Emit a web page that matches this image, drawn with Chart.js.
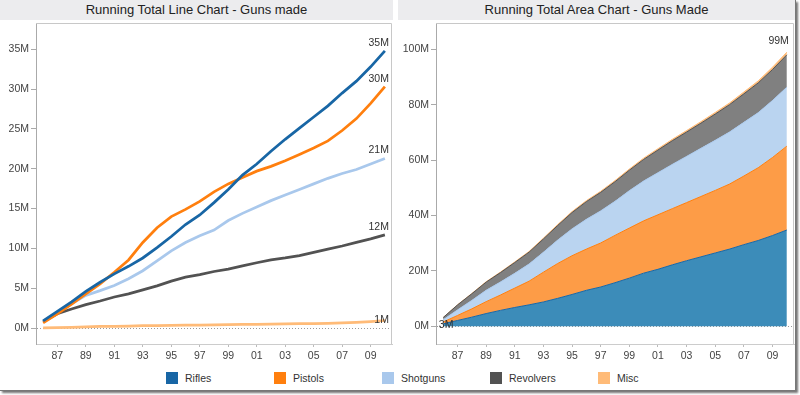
<!DOCTYPE html>
<html>
<head>
<meta charset="utf-8">
<script src="https://cdn.jsdelivr.net/npm/chart.js@4.4.1/dist/chart.umd.min.js"></script>
<style>
  html, body { margin: 0; padding: 0; background: #fff; }
  body { width: 800px; height: 395px; position: relative; overflow: hidden;
         font-family: "Liberation Sans", Arial, sans-serif; }
  .frame { position: absolute; left: 0; top: 0; width: 795px; height: 390px;
           border-right: 1px solid #777; border-bottom: 1px solid #777;
           box-shadow: 2px 2px 2px rgba(0,0,0,0.55); }
  .title { position: absolute; top: 0; height: 20px; line-height: 20px; background: #ececee;
           text-align: center; font-size: 13px; color: #222; }
  canvas { position: absolute; }
  .legend { position: absolute; top: 372px; left: 0; width: 800px; height: 14px;
            font-size: 10.5px; color: #333; }
  .legend span.item { position: absolute; top: 0; height: 13px; line-height: 13px; white-space: nowrap; }
  .legend i { display: inline-block; width: 12px; height: 12px; vertical-align: top; margin-right: 7px; }
</style>
</head>
<body>
<div class="frame"></div>
<div class="title" style="left:0;width:393px">Running Total Line Chart - Guns made</div>
<div class="title" style="left:398px;width:397px">Running Total Area Chart - Guns Made</div>
<canvas id="lineChart" width="393" height="348" style="left:0;top:20px"></canvas>
<canvas id="areaChart" width="397" height="348" style="left:398px;top:20px"></canvas>
<div class="legend" id="legend"></div>

<script>
// cumulative guns made, millions, 1986..2010
const years = ["86","87","88","89","90","91","92","93","94","95","96","97","98","99","00","01","02","03","04","05","06","07","08","09","10"];
const rifles = [0.9, 2.1, 3.3, 4.6, 5.75, 6.8, 7.75, 8.8, 10.1, 11.5, 13.0, 14.2, 15.75, 17.4, 19.2, 20.6, 22.2, 23.7, 25.1, 26.5, 27.9, 29.5, 31.0, 32.8, 34.8];
const pistols = [0.65, 1.8, 3.0, 4.3, 5.55, 7.0, 8.55, 10.75, 12.6, 14.0, 14.9, 15.9, 17.1, 18.1, 18.9, 19.7, 20.3, 21.0, 21.8, 22.6, 23.5, 24.8, 26.3, 28.2, 30.3];
const shotguns = [0.8, 2.0, 3.05, 4.1, 4.7, 5.35, 6.2, 7.2, 8.45, 9.7, 10.75, 11.6, 12.3, 13.5, 14.4, 15.2, 16.0, 16.7, 17.4, 18.1, 18.8, 19.4, 19.9, 20.6, 21.3];
const revolvers = [0.8, 1.8, 2.4, 2.95, 3.4, 3.9, 4.3, 4.8, 5.3, 5.9, 6.4, 6.7, 7.1, 7.4, 7.8, 8.2, 8.55, 8.8, 9.1, 9.5, 9.9, 10.3, 10.75, 11.2, 11.7];
const misc = [0.02, 0.05, 0.1, 0.15, 0.2, 0.22, 0.25, 0.3, 0.32, 0.34, 0.36, 0.38, 0.4, 0.42, 0.45, 0.47, 0.5, 0.52, 0.55, 0.57, 0.6, 0.65, 0.72, 0.82, 0.95];

const seriesNames = ["Rifles", "Pistols", "Shotguns", "Revolvers", "Misc"];
const seriesData = [rifles, pistols, shotguns, revolvers, misc];
const lineColors = ["#1866a5", "#ff7f0e", "#a9c8ec", "#525252", "#ffbb78"];
const areaColors = ["#3c8cb9", "#fd9c47", "#bad4f0", "#808080", "#ffbb78"];

const lineTicks = [0, 5, 10, 15, 20, 25, 30, 35];
const areaTicks = [0, 20, 40, 60, 80, 100];

const FONT = '"Liberation Sans", Arial, sans-serif';
Chart.defaults.font.family = FONT;
Chart.defaults.font.size = 10.5;
Chart.defaults.color = "#555";

// light box around the plot (top and right sides; axes draw the other two)
const PLOT_FRAME = {
  id: "plotFrame",
  afterDraw(chart) {
    const { ctx, chartArea: a } = chart;
    ctx.save();
    ctx.strokeStyle = "#c8c8c8";
    ctx.lineWidth = 1;
    ctx.beginPath();
    ctx.moveTo(a.left, a.top + 0.5);
    ctx.lineTo(a.right - 0.5, a.top + 0.5);
    ctx.lineTo(a.right - 0.5, a.bottom);
    ctx.stroke();
    ctx.restore();
  },
};

// "35M"-style labels next to chosen points
const END_LABELS = {
  id: "endLabels",
  afterDatasetsDraw(chart, args, opts) {
    const { ctx } = chart;
    const y = chart.scales.y;
    ctx.save();
    ctx.font = `10.5px ${FONT}`;
    ctx.fillStyle = "#333";
    ctx.textBaseline = "middle";
    (opts.items || []).forEach((it) => {
      const meta = chart.getDatasetMeta(it.ds);
      const idx = it.first ? 0 : meta.data.length - 1;
      const pt = meta.data[idx];
      if (!pt) return;
      const value = Math.round(y.getValueForPixel(pt.y));
      ctx.textAlign = it.align || "right";
      ctx.fillText(`${value}M`, pt.x + (it.dx || 0), pt.y + (it.dy || 0));
    });
    ctx.restore();
  },
};

// tick labels would otherwise pad the plot edges
const noEdgePadding = (s) => {
  s.paddingTop = 0;
  s.paddingBottom = 0;
  s.paddingLeft = 0;
  s.paddingRight = 0;
};

const xScale = () => ({
  offset: true,
  grid: {
    drawOnChartArea: false,
    tickLength: 3,
    tickColor: (c) => (c.index % 2 ? "#bbb" : "transparent"),
  },
  border: { color: "#ccc" },
  ticks: {
    autoSkip: false,
    maxRotation: 0,
    padding: 3,
    color: "#444",
    callback: (v, i) => (i % 2 ? years[i] : ""),
  },
  afterFit: (s) => { s.height = 24; noEdgePadding(s); },
});

const yScale = (min, max, ticks, width) => ({
  min,
  max,
  afterBuildTicks: (axis) => { axis.ticks = ticks.map((v) => ({ value: v })); },
  grid: {
    color: (c) => (c.tick && c.tick.value === 0 ? "#999" : "transparent"),
    tickColor: "#aaa",
    tickLength: 5,
  },
  border: { color: "#aaa", dash: [1, 2] },
  ticks: { padding: 2, color: "#444", callback: (v) => `${v}M` },
  afterFit: (s) => { s.width = width; noEdgePadding(s); },
});

new Chart(document.getElementById("lineChart"), {
  type: "line",
  data: {
    labels: years,
    datasets: seriesData.map((d, i) => ({
      label: seriesNames[i],
      data: d,
      borderColor: lineColors[i],
      borderWidth: 2.75,
      pointRadius: 0,
      tension: 0,
      fill: false,
    })),
  },
  options: {
    responsive: false,
    animation: false,
    layout: { padding: { top: 3, right: 1, left: 0, bottom: 0 } },
    plugins: {
      legend: { display: false },
      tooltip: { enabled: false },
      endLabels: {
        items: [
          { ds: 0, dy: -8, dx: 4 },
          { ds: 1, dy: -8, dx: 4 },
          { ds: 2, dy: -8, dx: 4 },
          { ds: 3, dy: -8, dx: 4 },
          { ds: 4, dy: 0, dx: 4 },
        ],
      },
    },
    scales: { x: xScale(), y: yScale(-2, 38.3, lineTicks, 36) },
  },
  plugins: [PLOT_FRAME, END_LABELS],
});

new Chart(document.getElementById("areaChart"), {
  type: "line",
  data: {
    labels: years,
    datasets: seriesData.map((d, i) => ({
      label: seriesNames[i],
      data: d,
      borderColor: lineColors[i],
      backgroundColor: areaColors[i],
      borderWidth: 1,
      pointRadius: 0,
      tension: 0,
      fill: i === 0 ? "origin" : "-1",
    })),
  },
  options: {
    responsive: false,
    animation: false,
    layout: { padding: { top: 3, right: 1, left: 0, bottom: 0 } },
    plugins: {
      legend: { display: false },
      tooltip: { enabled: false },
      endLabels: {
        items: [
          { ds: 4, dy: -11, dx: 2 },
          { ds: 4, first: true, dy: 8, dx: 3, align: "center" },
        ],
      },
    },
    scales: {
      x: xScale(),
      y: { ...yScale(-6.4, 109.6, areaTicks, 38), stacked: true },
    },
  },
  plugins: [PLOT_FRAME, END_LABELS],
});

// shared legend under both charts
const legend = document.getElementById("legend");
const legendLeft = [166, 274, 382, 490, 598];
legend.innerHTML = seriesNames
  .map((name, i) =>
    `<span class="item" style="left:${legendLeft[i]}px"><i style="background:${lineColors[i]}"></i>${name}</span>`)
  .join("");
</script>
</body>
</html>
